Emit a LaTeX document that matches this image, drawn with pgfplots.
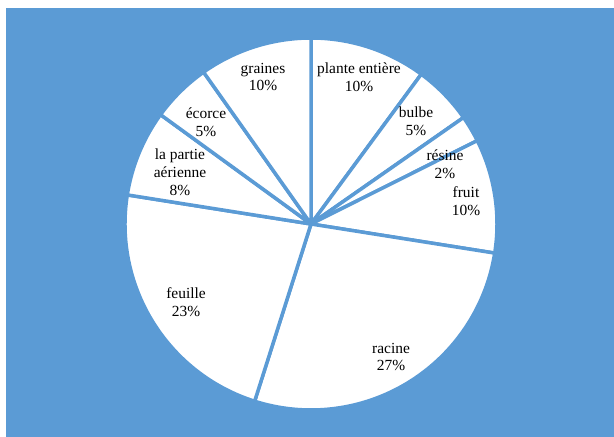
\documentclass[border=0pt]{standalone}
\usepackage{fontspec}
\setmainfont{Liberation Serif}
\usepackage{pgfplots}
\usepackage{pgfplotstable}
\pgfplotsset{compat=1.18}

\definecolor{pieblue}{RGB}{91,155,213}
\tikzset{lbl/.style={align=center, font=\fontsize{15.5}{18}\selectfont, inner sep=0pt}}

% parts of the plant used, percent (clockwise from the top),
% read off the wedge angles; the labels show the rounded values
\pgfplotstableread[col sep=comma]{
name,pct
plante entiere,10.1
bulbe,5.2
resine,2.3
fruit,9.9
racine,27.4
feuille,22.6
partie aerienne,7.5
ecorce,5.2
graines,9.8
}\piedata

\begin{document}
\begin{tikzpicture}
\begin{axis}[
    x=1bp, y=1bp,
    xmin=0, xmax=614, ymin=0, ymax=437,
    hide axis,
    clip=false,
]
% full page extent, so the white strips at left and top are kept
\path (axis cs:0,0) rectangle (axis cs:614,437);
% background panel
\addplot[fill=pieblue, draw=none] coordinates {(6,0) (614,0) (614,429) (6,429)} -- cycle;

% wedges
\pgfplotstablegetrowsof{\piedata}
\pgfmathtruncatemacro\nrows{\pgfplotsretval-1}
\xdef\angA{90}
\pgfplotsforeachungrouped \i in {0,...,\nrows}{%
  \pgfplotstablegetelem{\i}{pct}\of\piedata
  \pgfmathsetmacro\angB{\angA-3.6*\pgfplotsretval}
  \edef\temp{\noexpand\filldraw[white, draw=pieblue, line width=3.5bp, line join=round]
    (axis cs:311,213) -- ++(\angA:186bp) arc[start angle=\angA, end angle=\angB, radius=186bp] -- cycle;}
  \temp
  \xdef\angA{\angB}
}

% labels
\node[lbl] at (axis cs:359,360) {plante entière\\10\%};
\node[lbl] at (axis cs:416,316) {bulbe\\5\%};
\node[lbl] at (axis cs:445,273) {résine\\2\%};
\node[lbl] at (axis cs:466,236) {fruit\\10\%};
\node[lbl] at (axis cs:391,80) {racine\\27\%};
\node[lbl] at (axis cs:186,135) {feuille\\23\%};
\node[lbl] at (axis cs:180,265) {la partie\\aérienne\\8\%};
\node[lbl] at (axis cs:206,315) {écorce\\5\%};
\node[lbl] at (axis cs:263,360) {graines\\10\%};
\end{axis}
\end{tikzpicture}
\end{document}
